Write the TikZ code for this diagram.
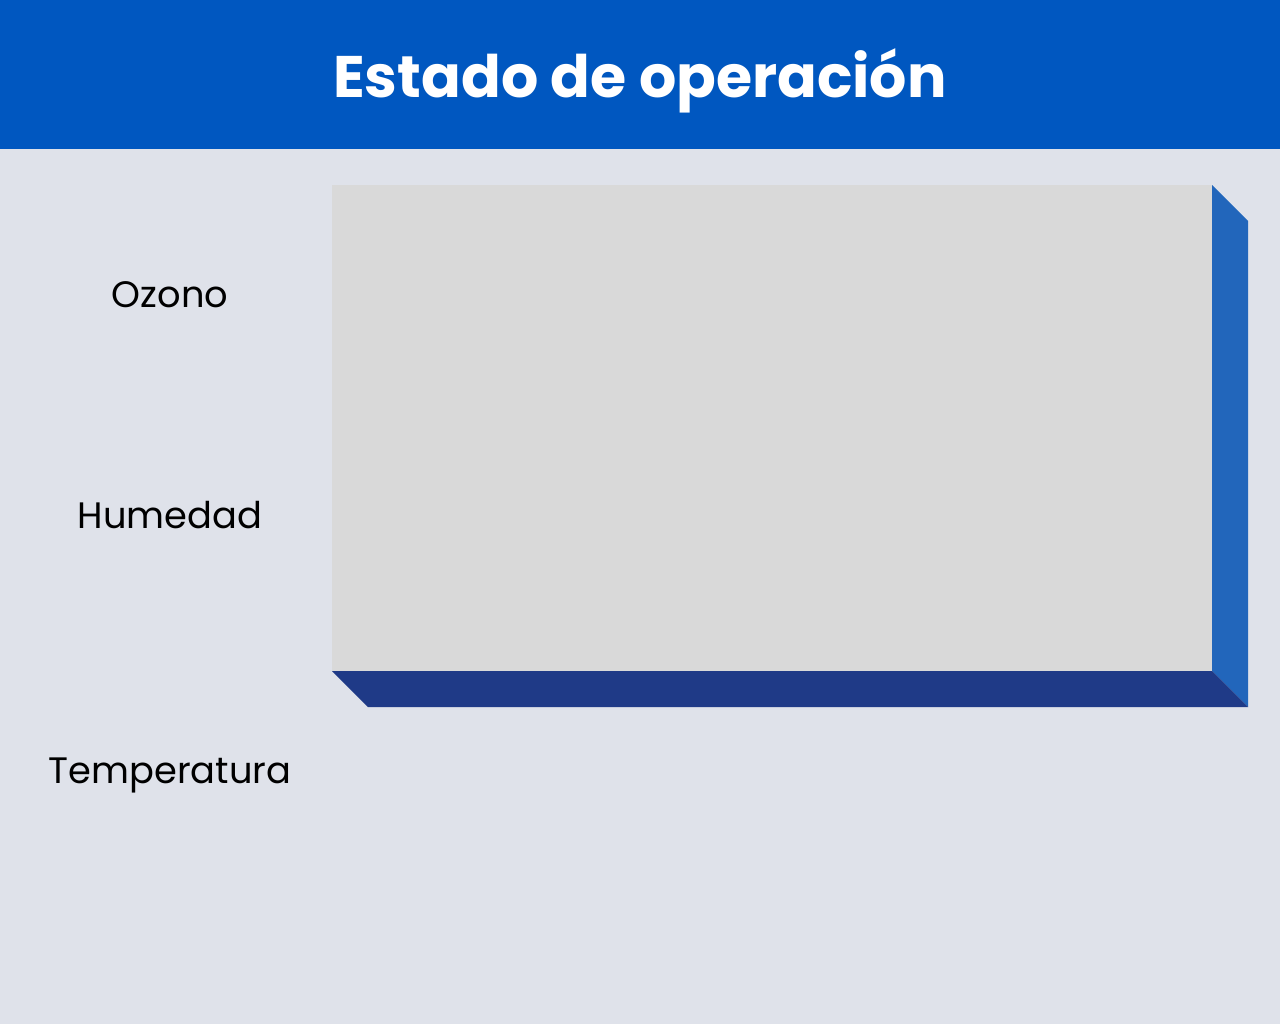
\documentclass[tikz,border=0pt]{standalone}
\usepackage{fontspec}
\setmainfont{Poppins}
\definecolor{hdr}{RGB}{0,87,192}
\definecolor{bg}{RGB}{223,226,234}
\definecolor{front}{RGB}{217,217,217}
\definecolor{rside}{RGB}{34,102,187}
\definecolor{bside}{RGB}{31,58,135}
\begin{document}
\begin{tikzpicture}[x=0.5pt,y=-0.5pt,
  lbl/.style={font=\fontsize{18.4}{21}\selectfont, text=black, anchor=base, inner sep=0pt}]
\useasboundingbox (0,0) rectangle (1280,1024);
\fill[bg] (0,0) rectangle (1280,1024);
\fill[hdr] (0,0) rectangle (1280,149);
\node[font=\bfseries\fontsize{29.3}{33}\selectfont, text=white, inner sep=0pt, anchor=base] (title) at (640,97) {Estado de operación};
% 3D box
\fill[front] (332,185) rectangle (1212,671);
\fill[rside] (1212,185) -- (1248,221) -- (1248,707) -- (1212,671) -- cycle;
\fill[bside] (332,671) -- (1212,671) -- (1248,707) -- (368,707) -- cycle;
\node[lbl] (ozono) at (170,307) {Ozono};
\node[lbl] (hum) at (170,528) {Humedad};
\node[lbl] (temp) at (170,783) {Temperatura};
\end{tikzpicture}
\end{document}
